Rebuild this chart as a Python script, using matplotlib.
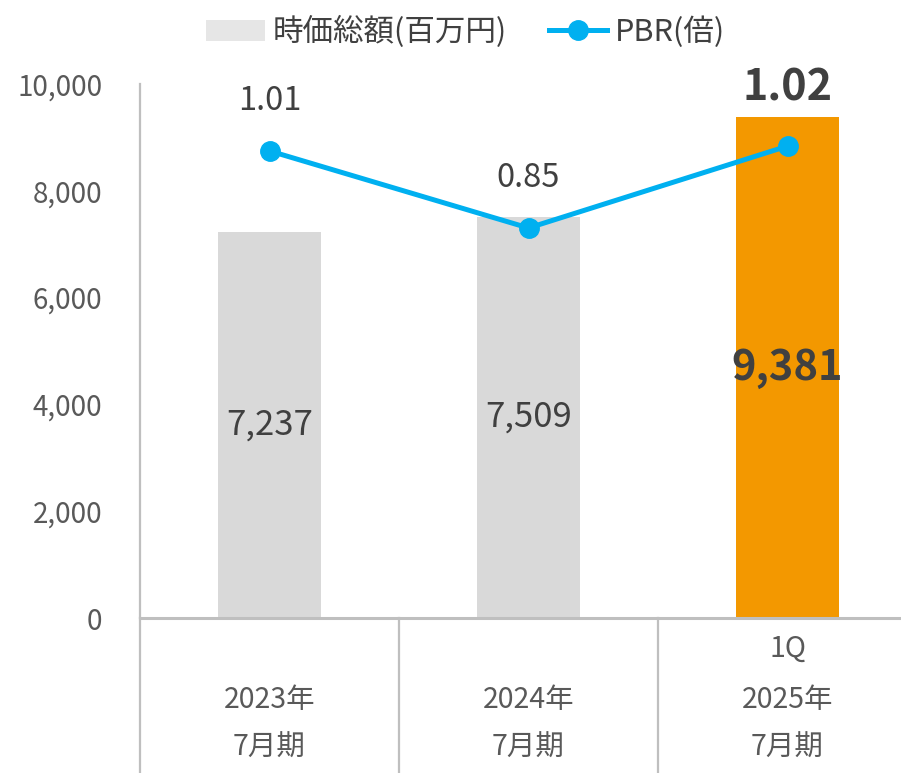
import matplotlib
matplotlib.use("Agg")
import matplotlib.pyplot as plt
from matplotlib.patches import Patch
from matplotlib.lines import Line2D
from matplotlib.ticker import FuncFormatter

plt.rcParams['font.family'] = ['Noto Sans CJK JP', 'DejaVu Sans']

# Data
years = ['2023年', '2024年', '2025年']
periods = ['7月期', '7月期', '7月期']
quarter_tags = ['', '', '1Q']
market_cap = [7237, 7509, 9381]      # 百万円
pbr = [1.01, 0.85, 1.02]             # 倍

bar_colors = ['#d9d9d9', '#d9d9d9', '#f39800']
line_color = '#00b0f0'
text_dark = '#404040'
text_mid = '#595959'
grid_gray = '#bfbfbf'

fig = plt.figure(figsize=(9.01, 7.73), dpi=100)
ax = fig.add_axes([140 / 901, 155 / 773, 777 / 901, 534 / 773])

x = list(range(len(years)))

# Bars
ax.bar(x, market_cap, width=0.40, color=bar_colors, zorder=2)
for i, v in enumerate(market_cap):
    last = i == len(market_cap) - 1
    ax.text(i, v / 2, f'{v:,}', ha='center', va='center',
            fontsize=30 if last else 25, color=text_dark,
            fontweight='bold' if last else 'normal', zorder=3)

ax.set_xlim(-0.5, 2.5)
ax.set_ylim(0, 10000)
ax.set_yticks(range(0, 10001, 2000))
ax.yaxis.set_major_formatter(FuncFormatter(lambda v, p: f'{int(v):,}'))
ax.tick_params(axis='y', length=0, pad=27, labelsize=20, labelcolor=text_mid)
ax.set_xticks([])

for s in ['top', 'right']:
    ax.spines[s].set_visible(False)
ax.spines['left'].set_color(grid_gray)
ax.spines['left'].set_linewidth(1.6)
ax.spines['bottom'].set_color(grid_gray)
ax.spines['bottom'].set_linewidth(2.2)

# category table below the axis
xt = ax.get_xaxis_transform()
for b in [-0.5, 0.5, 1.5]:
    ax.plot([b, b], [0, -0.35], transform=xt, color=grid_gray, lw=1.6,
            clip_on=False)
for i in x:
    if quarter_tags[i]:
        ax.text(i, -0.057, quarter_tags[i], transform=xt, ha='center',
                va='center', fontsize=20.5, color=text_mid)
    ax.text(i, -0.154, years[i], transform=xt, ha='center', va='center',
            fontsize=20.5, color=text_mid)
    ax.text(i, -0.243, periods[i], transform=xt, ha='center', va='center',
            fontsize=20.5, color=text_mid)

# PBR line on hidden secondary axis
ax2 = ax.twinx()
ax2.set_ylim(0.04, 1.149)
ax2.axis('off')
ax2.plot(x, pbr, color=line_color, lw=3.6, marker='o', markersize=14,
         zorder=4)
for i, v in enumerate(pbr):
    last = i == len(pbr) - 1
    ax2.annotate(f'{v:.2f}', (i, v), xytext=(0, 42 if last else 36),
                 textcoords='offset points', ha='center', va='center',
                 fontsize=31 if last else 23.5, color=text_dark,
                 fontweight='bold' if last else 'normal')

# Legend
handles = [Patch(facecolor='#e6e6e6', edgecolor='none'),
           Line2D([0], [0], color=line_color, lw=3.6, marker='o', markersize=14)]
fig.legend(handles, ['時価総額(百万円)', 'PBR(倍)'], loc='center',
           bbox_to_anchor=(0.517, 1 - 32 / 773), ncol=2, frameon=False,
           fontsize=22, labelcolor=text_dark, handlelength=1.9,
           handletextpad=0.25, columnspacing=1.4)

fig.savefig('out.png', dpi=100)
